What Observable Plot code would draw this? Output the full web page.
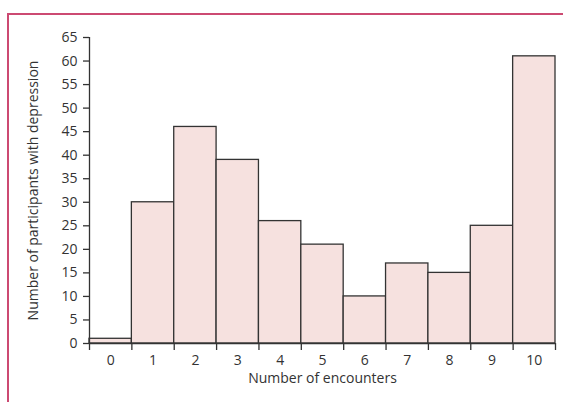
<!DOCTYPE html>
<html>
<head>
<meta charset="utf-8">
<script src="https://cdn.jsdelivr.net/npm/d3@7"></script>
<script src="https://cdn.jsdelivr.net/npm/@observablehq/plot@0.6"></script>
<style>
  html, body { margin: 0; padding: 0; background: #fff; }
  #wrap { position: relative; width: 563px; height: 402px; overflow: hidden; }
  #frame { position: absolute; left: 7px; top: 13px; width: 600px; height: 450px;
           border-top: 2px solid #cc4a72; border-left: 2px solid #cc4a72; }
  #chart { position: absolute; left: 0; top: 0; }
</style>
</head>
<body>
<div id="wrap"><div id="frame"></div><div id="chart"></div></div>
<script>
const encounters = [0, 1, 2, 3, 4, 5, 6, 7, 8, 9, 10];
const participants = [1, 30, 46, 39, 26, 21, 10, 17, 15, 25, 61];
const yTicks = [0, 5, 10, 15, 20, 25, 30, 35, 40, 45, 50, 55, 60, 65];
const xLabel = "Number of encounters";
const yLabel = "Number of participants with depression";

const data = encounters.map((e, i) => ({ e, n: participants[i] }));
const boundaries = [...encounters.map(e => e - 0.5), encounters[encounters.length - 1] + 0.5];
const ink = "#333";
const fs = 14;

const chart = Plot.plot({
  width: 563,
  height: 402,
  marginLeft: 89,
  marginRight: 8,
  marginTop: 37,
  marginBottom: 59,
  style: { fontFamily: "'Open Sans', sans-serif", fontSize: "14px", color: ink, background: "transparent", overflow: "visible" },
  x: { domain: [boundaries[0], boundaries[boundaries.length - 1]] },
  y: { domain: [0, 65] },
  marks: [
    Plot.rectY(data, { x1: d => d.e - 0.5, x2: d => d.e + 0.5, y: "n", fill: "#f6e1df", stroke: ink, strokeWidth: 1.3 }),
    Plot.ruleX([boundaries[0]], { y1: 0, y2: 65, stroke: ink, strokeWidth: 1.3 }),
    Plot.ruleY([0], { stroke: ink, strokeWidth: 1.3 }),
    Plot.axisY({ ticks: yTicks, tickSize: 6, tickFormat: () => "", label: null, stroke: ink, strokeWidth: 1.3 }),
    Plot.axisX({ ticks: boundaries, tickSize: 7, tickFormat: () => "", label: null, stroke: ink, strokeWidth: 1.3 }),
    Plot.text(yTicks, { x: boundaries[0], y: d => d, dx: -12, textAnchor: "end", text: d => String(d), fill: ink, ariaLabel: "ytick-labels" }),
    Plot.text(encounters, { x: d => d, y: 0, dy: 17, text: d => String(d), fill: ink, ariaLabel: "xtick-labels" }),
    Plot.text([xLabel], { frameAnchor: "bottom", dy: 39, text: d => d, fill: ink, fontSize: fs }),
    Plot.text([yLabel], { frameAnchor: "left", textAnchor: "middle", dx: -56, rotate: -90, text: d => d, fill: ink, fontSize: fs })
  ]
});
d3.select(chart)
  .selectAll('g[aria-label="ytick-labels"] text, g[aria-label="xtick-labels"] text')
  .attr("font-size", 15)
  .style("font-size", "15px");
document.getElementById("chart").appendChild(chart);
</script>
</body>
</html>
